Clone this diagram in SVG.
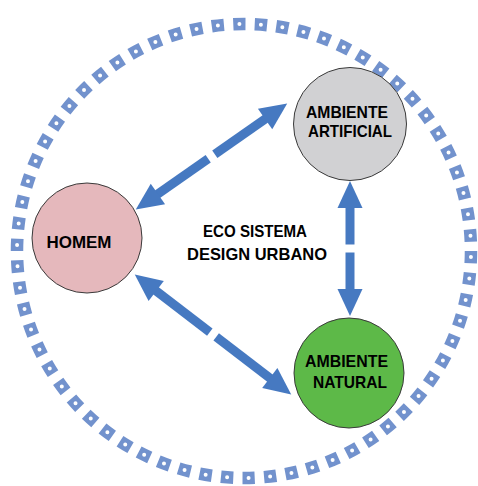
<svg xmlns="http://www.w3.org/2000/svg" width="478" height="486" viewBox="0 0 478 486">
<defs>
<style>
.lbl{font-family:"Liberation Sans",Arial,sans-serif;font-weight:bold;font-size:17px;fill:#000;text-anchor:middle}
.node{stroke:#3a3a3a;stroke-width:1}
.shaft{stroke:#4679C1;stroke-width:9;fill:none;marker-end:url(#head)}
</style>
<marker id="head" markerUnits="userSpaceOnUse" markerWidth="27" markerHeight="25" viewBox="0 0 27 25" refX="1" refY="12.5" orient="auto" overflow="visible">
<path d="M0,0 L27,12.5 L0,25 z" fill="#4679C1"/>
</marker>
</defs>
<rect width="478" height="486" fill="#fff"/>
<g id="ring">
<circle cx="244" cy="251" r="227" fill="none" stroke="#7292CD" stroke-width="12.5" pathLength="660" stroke-dasharray="5.7 4.3"/>
<circle cx="244" cy="251" r="227" fill="none" stroke="#fff" stroke-width="4" stroke-linecap="round" pathLength="660" stroke-dasharray="0 10" stroke-dashoffset="-2.85"/>
</g>
<g id="connectors">
<line class="shaft" x1="214.8" y1="154.2" x2="265.9" y2="118.5"/>
<line class="shaft" x1="208.2" y1="158.8" x2="157.1" y2="194.5"/>
<line class="shaft" x1="350" y1="244.5" x2="350" y2="207"/>
<line class="shaft" x1="350" y1="252.5" x2="350" y2="290"/>
<line class="shaft" x1="216.2" y1="336.9" x2="270.6" y2="378.6"/>
<line class="shaft" x1="209.8" y1="332.1" x2="155.4" y2="290.4"/>
</g>
<g id="artificial">
<circle class="node" cx="350" cy="124" r="56.5" fill="#D1D1D3"/>
<text class="lbl" x="347" y="118" textLength="82" lengthAdjust="spacingAndGlyphs">AMBIENTE</text>
<text class="lbl" x="350" y="137" textLength="84" lengthAdjust="spacingAndGlyphs">ARTIFICIAL</text>
</g>
<g id="homem">
<circle class="node" cx="87" cy="238" r="55" fill="#E5B8BC"/>
<text class="lbl" x="79" y="248" textLength="65" lengthAdjust="spacingAndGlyphs">HOMEM</text>
</g>
<g id="natural">
<circle class="node" cx="349" cy="373" r="55" fill="#5DB948"/>
<text class="lbl" x="346.5" y="367" textLength="83" lengthAdjust="spacingAndGlyphs">AMBIENTE</text>
<text class="lbl" x="350" y="388" textLength="74" lengthAdjust="spacingAndGlyphs">NATURAL</text>
</g>
<g id="center">
<text class="lbl" x="255" y="237" textLength="104" lengthAdjust="spacingAndGlyphs">ECO SISTEMA</text>
<text class="lbl" x="257" y="260" textLength="140" lengthAdjust="spacingAndGlyphs">DESIGN URBANO</text>
</g>
</svg>
